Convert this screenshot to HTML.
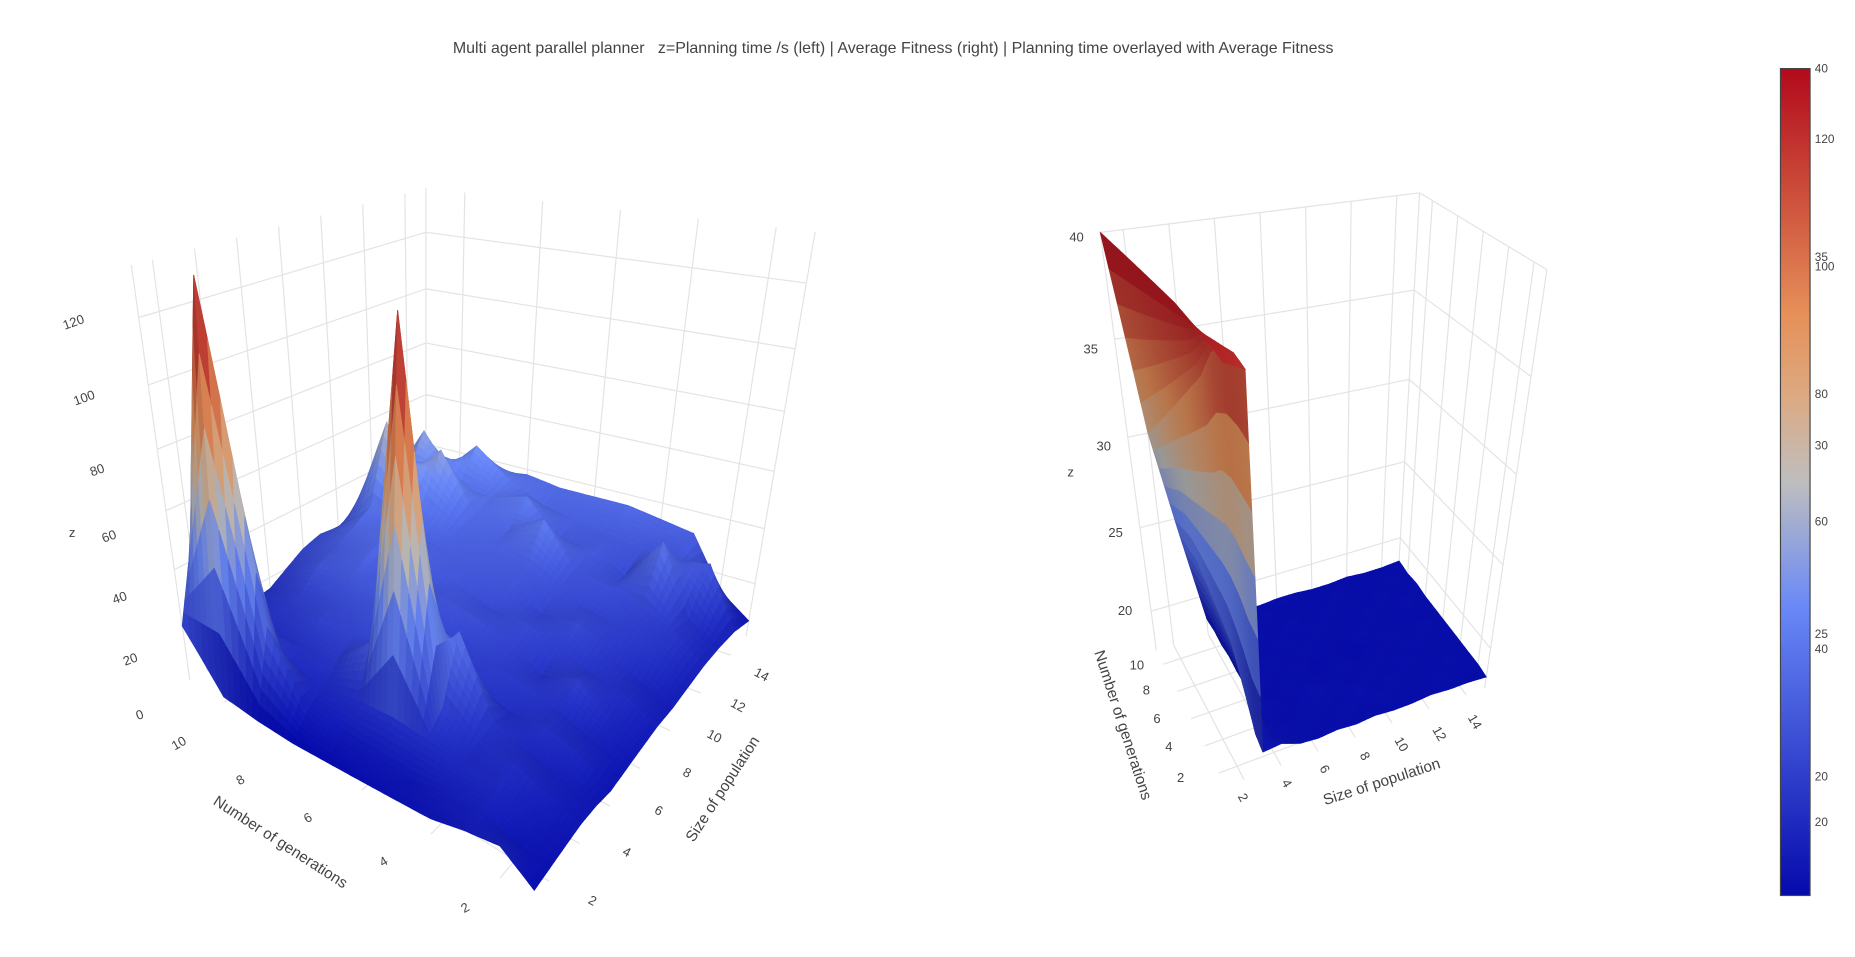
<!DOCTYPE html>
<html><head><meta charset="utf-8">
<style>
html,body{margin:0;padding:0;background:#fff;}
svg{display:block;}
text{font-family:"Liberation Sans",sans-serif;fill:#444;}
</style></head>
<body>
<svg id="chart" width="1855" height="957" viewBox="0 0 1568 809" preserveAspectRatio="none" xmlns="http://www.w3.org/2000/svg">
<rect x="0" y="0" width="1568" height="809" fill="#fff"/>
<text x="755" y="45" font-size="13.5" text-anchor="middle" xml:space="preserve">Multi agent parallel planner   z=Planning time /s (left) | Average Fitness (right) | Planning time overlayed with Average Fitness</text>
<g id="leftScene"><g id="leftGrid"></g><g id="leftSurf"></g></g>
<g id="rightScene"><g id="rightGrid"></g><g id="rightSurf"></g></g>

<g font-size="11">
<text x="62" y="276" text-anchor="middle" transform="rotate(-20 62 272)">120</text>
<text x="71" y="340" text-anchor="middle" transform="rotate(-20 71 336)">100</text>
<text x="82" y="401" text-anchor="middle" transform="rotate(-20 82 397)">80</text>
<text x="92" y="457" text-anchor="middle" transform="rotate(-20 92 453)">60</text>
<text x="101" y="509" text-anchor="middle" transform="rotate(-20 101 505)">40</text>
<text x="110" y="561" text-anchor="middle" transform="rotate(-20 110 557)">20</text>
<text x="118" y="608" text-anchor="middle" transform="rotate(-20 118 604)">0</text>
<text x="61" y="454" text-anchor="middle">z</text>
</g>
<g font-size="11">
<text x="151" y="632" text-anchor="middle" transform="rotate(-30 151 628)">10</text>
<text x="203" y="663" text-anchor="middle" transform="rotate(-30 203 659)">8</text>
<text x="260" y="695" text-anchor="middle" transform="rotate(-30 260 691)">6</text>
<text x="324" y="732" text-anchor="middle" transform="rotate(-30 324 728)">4</text>
<text x="393" y="771" text-anchor="middle" transform="rotate(-30 393 767)">2</text>
<text x="237" y="716" font-size="13" text-anchor="middle" transform="rotate(33 237 712)">Number of generations</text>
</g>
<g font-size="11">
<text x="501" y="765" text-anchor="middle" transform="rotate(28 501 761)">2</text>
<text x="530" y="724" text-anchor="middle" transform="rotate(28 530 720)">4</text>
<text x="557" y="689" text-anchor="middle" transform="rotate(28 557 685)">6</text>
<text x="581" y="657" text-anchor="middle" transform="rotate(28 581 653)">8</text>
<text x="604" y="626" text-anchor="middle" transform="rotate(28 604 622)">10</text>
<text x="624" y="600" text-anchor="middle" transform="rotate(28 624 596)">12</text>
<text x="644" y="574" text-anchor="middle" transform="rotate(28 644 570)">14</text>
<text x="611" y="671" font-size="13" text-anchor="middle" transform="rotate(-57 611 667)">Size of population</text>
</g>

<g font-size="11">
<text x="910" y="204" text-anchor="middle">40</text>
<text x="922" y="299" text-anchor="middle">35</text>
<text x="933" y="381" text-anchor="middle">30</text>
<text x="943" y="454" text-anchor="middle">25</text>
<text x="951" y="520" text-anchor="middle">20</text>
<text x="905" y="403" text-anchor="middle">z</text>
</g>
<g font-size="11">
<text x="961" y="566" text-anchor="middle">10</text>
<text x="969" y="587" text-anchor="middle">8</text>
<text x="978" y="611" text-anchor="middle">6</text>
<text x="988" y="635" text-anchor="middle">4</text>
<text x="998" y="661" text-anchor="middle">2</text>
<text x="949" y="617" font-size="13" text-anchor="middle" transform="rotate(72 949 613)">Number of generations</text>
</g>
<g font-size="11">
<text x="1051" y="678" text-anchor="middle" transform="rotate(60 1051 674)">2</text>
<text x="1088" y="666" text-anchor="middle" transform="rotate(60 1088 662)">4</text>
<text x="1120" y="654" text-anchor="middle" transform="rotate(60 1120 650)">6</text>
<text x="1154" y="643" text-anchor="middle" transform="rotate(60 1154 639)">8</text>
<text x="1185" y="633" text-anchor="middle" transform="rotate(60 1185 629)">10</text>
<text x="1217" y="624" text-anchor="middle" transform="rotate(60 1217 620)">12</text>
<text x="1247" y="614" text-anchor="middle" transform="rotate(60 1247 610)">14</text>
<text x="1168" y="665" font-size="13" text-anchor="middle" transform="rotate(-18 1168 661)">Size of population</text>
</g>

<defs>
<linearGradient id="cbGrad" x1="0" y1="1" x2="0" y2="0">
<stop offset="0" stop-color="rgb(5,10,172)"/>
<stop offset="0.35" stop-color="rgb(106,137,247)"/>
<stop offset="0.5" stop-color="rgb(190,190,190)"/>
<stop offset="0.6" stop-color="rgb(220,170,132)"/>
<stop offset="0.7" stop-color="rgb(230,145,90)"/>
<stop offset="1" stop-color="rgb(178,10,28)"/>
</linearGradient>
</defs>
<g id="colorbar">
<rect x="1505" y="58" width="25" height="699" fill="url(#cbGrad)" stroke="#444" stroke-width="1"/>
<g id="cbTicks" font-size="10"></g>
</g>
</svg>
<script>
// ---- data ----
const pops = [1,2,3,4,5,6,7,8,9,10,11,12,13,14,15];
const gens = [1,2,3,4,5,6,7,8,9,10,11];
// planning time (rows: generations 1..11, cols: population 1..15)
const zLeft = [
 [3, 4, 5, 6, 6, 5, 6, 7, 8, 8, 9, 10, 10, 9, 6],
 [10, 6, 8, 10, 9, 12, 10, 12, 14, 12, 16, 18, 16, 30, 14],
 [8, 9, 12, 14, 12, 15, 14, 20, 16, 18, 20, 22, 40, 28, 32],
 [5, 8, 12, 14, 16, 14, 18, 16, 20, 24, 22, 26, 24, 28, 34],
 [4, 6, 14, 20, 40, 18, 20, 22, 24, 22, 26, 28, 30, 30, 36],
 [3, 6, 15, 133, 25, 20, 22, 26, 24, 28, 30, 42, 30, 32, 36],
 [2, 6, 14, 30, 22, 24, 26, 28, 28, 30, 32, 34, 42, 34, 36],
 [1, 8, 12, 18, 22, 26, 30, 26, 32, 32, 34, 36, 38, 40, 38],
 [1, 30, 14, 16, 22, 24, 30, 34, 36, 34, 40, 56, 38, 50, 36],
 [2, 134, 25, 14, 18, 22, 28, 30, 34, 38, 66, 42, 56, 36, 34],
 [20, 45, 20, 15, 15, 16, 20, 24, 26, 25, 28, 30, 32, 33, 34]
];
// average fitness (rows: generations 1..11, cols: population 1..15)
const zRight = [
 [38.5, 38.0, 18.7, 18.8, 18.4, 18.3, 18.4, 18.3, 18.4, 18.3, 18.3, 18.4, 18.3, 18.3, 18.2],
 [38.8, 38.3, 19.0, 18.5, 18.4, 18.4, 18.3, 18.4, 18.3, 18.4, 18.3, 18.3, 18.4, 18.3, 18.3],
 [39.0, 38.2, 20.0, 18.5, 18.3, 18.4, 18.4, 18.3, 18.5, 18.3, 18.4, 18.3, 18.3, 18.4, 18.3],
 [39.2, 37.5, 21.0, 18.5, 18.4, 18.3, 18.5, 18.4, 18.3, 18.4, 18.3, 18.4, 18.3, 18.3, 18.3],
 [39.4, 36.0, 22.0, 18.6, 18.3, 18.4, 18.3, 18.3, 18.4, 18.3, 18.4, 18.3, 18.4, 18.3, 18.3],
 [39.5, 35.0, 22.5, 18.5, 18.4, 18.3, 18.4, 18.2, 18.3, 18.2, 18.3, 18.4, 18.3, 18.4, 18.3],
 [39.6, 34.0, 23.0, 18.5, 18.3, 18.4, 18.3, 18.4, 18.3, 18.3, 18.4, 18.3, 18.3, 18.3, 18.3],
 [39.7, 33.0, 23.5, 18.6, 18.4, 18.3, 18.4, 18.3, 18.4, 18.3, 18.3, 18.4, 18.3, 18.4, 18.3],
 [39.8, 32.0, 24.0, 18.5, 18.3, 18.4, 18.3, 18.4, 18.3, 18.4, 18.3, 18.3, 18.4, 18.3, 18.4],
 [39.9, 31.0, 24.0, 18.6, 18.4, 18.3, 18.4, 18.3, 18.3, 18.3, 18.4, 18.3, 18.3, 18.4, 18.3],
 [40.0, 30.0, 24.0, 18.5, 18.3, 18.4, 18.3, 18.4, 18.4, 18.3, 18.3, 18.4, 18.3, 18.3, 18.4]
];
const popTicks = [2,4,6,8,10,12,14];
const genTicks = [2,4,6,8,10];
const leftZTicks = [20,40,60,80,100,120];
const rightZTicks = [20,25,30,35,40];
const cbLeftLabels = [120,100,80,60,40,20];
const cbRightLabels = [40,35,30,25,20];

// ---- scene geometry (screen corners of bounding box) ----
const leftScene = {p0:1,p1:15,g0:1,g1:11,z0:0,z1:135,k:1.16,cmin:1.3,cmax:131,
  floor:{F:[451.5,761],R:[630.6,538],L:[160.5,575],B:[360,454]},
  top:{F:[458,330],R:[689,196],L:[111,224],B:[360,159]}};
const rightScene = {p0:1,p1:15,g0:1,g1:11,z0:17.5,z1:40,k:1.2,cmin:18.05,cmax:40,
  floor:{F:[1036,665],R:[1255,581.5],L:[977.5,550],B:[1182,485]},
  top:{F:[1033,275],R:[1307.6,228],L:[930,196.5],B:[1200,163]}};

const stops = [[0,[5,10,172]],[0.35,[106,137,247]],[0.5,[190,190,190]],[0.6,[220,170,132]],[0.7,[230,145,90]],[1,[178,10,28]]];
function cscale(t){
  t=Math.max(0,Math.min(1,t));
  for(let i=1;i<stops.length;i++){
    if(t<=stops[i][0]){
      const a=stops[i-1],b=stops[i],f=(t-a[0])/(b[0]-a[0]);
      return [0,1,2].map(c=>a[1][c]+(b[1][c]-a[1][c])*f);
    }
  }
  return stops[stops.length-1][1];
}
function bil(c,u,v){
  const w=[(1-u)*(1-v),u*(1-v),(1-u)*v,u*v];
  return [w[0]*c.F[0]+w[1]*c.R[0]+w[2]*c.L[0]+w[3]*c.B[0],
          w[0]*c.F[1]+w[1]*c.R[1]+w[2]*c.L[1]+w[3]*c.B[1]];
}
function proj(sc,p,g,z){
  const u=(p-sc.p0)/(sc.p1-sc.p0), v=(g-sc.g0)/(sc.g1-sc.g0);
  const t=(z-sc.z0)/(sc.z1-sc.z0);
  const tt=t/(sc.k-(sc.k-1)*t);
  const f=bil(sc.floor,u,v), tp=bil(sc.top,u,v);
  return [f[0]+(tp[0]-f[0])*tt, f[1]+(tp[1]-f[1])*tt];
}
const NS='http://www.w3.org/2000/svg';
function line(parent,a,b,name){
  const el=document.createElementNS(NS,'line');
  el.setAttribute('x1',a[0].toFixed(1));el.setAttribute('y1',a[1].toFixed(1));
  el.setAttribute('x2',b[0].toFixed(1));el.setAttribute('y2',b[1].toFixed(1));
  el.setAttribute('stroke','#e3e3e3');el.setAttribute('stroke-width','1');
  
  
  parent.appendChild(el);
}
function drawGrid(sc,gid,zTicks){
  const G=document.getElementById(gid);
  const ztop=sc.z1;
  popTicks.forEach(p=>{
    line(G,proj(sc,p,sc.g0,sc.z0),proj(sc,p,sc.g1,sc.z0),'floor-gridline-population');
    line(G,proj(sc,p,sc.g1,sc.z0),proj(sc,p,sc.g1,ztop),'wall-gridline-population');
  });
  genTicks.forEach(g=>{
    line(G,proj(sc,sc.p0,g,sc.z0),proj(sc,sc.p1,g,sc.z0),'floor-gridline-generations');
    line(G,proj(sc,sc.p1,g,sc.z0),proj(sc,sc.p1,g,ztop),'wall-gridline-generations');
  });
  zTicks.forEach(z=>{
    line(G,proj(sc,sc.p0,sc.g1,z),proj(sc,sc.p1,sc.g1,z),'wall-gridline-z');
    line(G,proj(sc,sc.p1,sc.g1,z),proj(sc,sc.p1,sc.g0,z),'wall-gridline-z');
  });
  line(G,proj(sc,sc.p0,sc.g1,sc.z0),proj(sc,sc.p0,sc.g1,ztop),'wall-edge');
  line(G,proj(sc,sc.p1,sc.g1,sc.z0),proj(sc,sc.p1,sc.g1,ztop),'wall-edge');
  line(G,proj(sc,sc.p1,sc.g0,sc.z0),proj(sc,sc.p1,sc.g0,ztop),'wall-edge');
}
function drawSurface(sc,gid,Z){
  const G=document.getElementById(gid);
  const N=6, quads=[];
  const light=[-0.45,-0.5,0.74];
  for(let j=0;j<gens.length-1;j++){
    for(let i=0;i<pops.length-1;i++){
      const z00=Z[j][i],z10=Z[j][i+1],z01=Z[j+1][i],z11=Z[j+1][i+1];
      const zf=(s,r)=>z00*(1-s)*(1-r)+z10*s*(1-r)+z01*(1-s)*r+z11*s*r;
      const dp=(pops[i+1]-pops[i]), dg=(gens[j+1]-gens[j]);
      for(let a=0;a<N;a++){
        for(let b=0;b<N;b++){
          const s0=a/N,s1=(a+1)/N,r0=b/N,r1=(b+1)/N;
          const cs=[[s0,r0],[s1,r0],[s1,r1],[s0,r1]];
          const pts=cs.map(([s,r])=>proj(sc,pops[i]+dp*s,gens[j]+dg*r,zf(s,r)));
          const zs=cs.map(([s,r])=>zf(s,r));
          const zc=(zs[0]+zs[1]+zs[2]+zs[3])/4;
          const sm=(s0+s1)/2, rm=(r0+r1)/2;
          const dzs=((z10-z00)*(1-rm)+(z11-z01)*rm)/(sc.z1-sc.z0);
          const dzr=((z01-z00)*(1-sm)+(z11-z10)*sm)/(sc.z1-sc.z0);
          const du=dp/(sc.p1-sc.p0), dv=dg/(sc.g1-sc.g0);
          const n=[-dzs/du,-dzr/dv,1]; const nl=Math.hypot(n[0],n[1],n[2]);
          const dot=Math.max(0,(n[0]*light[0]+n[1]*light[1]+n[2]*light[2])/nl);
          const shade=0.8+0.22*dot;
          const col=cscale((zc-sc.cmin)/(sc.cmax-sc.cmin)).map(c=>Math.min(255,Math.round(c*shade)));
          const u=(pops[i]+dp*sm-sc.p0)/(sc.p1-sc.p0), v=(gens[j]+dg*rm-sc.g0)/(sc.g1-sc.g0);
          quads.push({pts,col,depth:u+v});
        }
      }
    }
  }
  quads.sort((a,b)=>b.depth-a.depth);
  quads.forEach(q=>{
    const el=document.createElementNS(NS,'polygon');
    el.setAttribute('points',q.pts.map(p=>p[0].toFixed(1)+','+p[1].toFixed(1)).join(' '));
    const c='rgb('+q.col.join(',')+')';
    el.setAttribute('fill',c);el.setAttribute('stroke',c);el.setAttribute('stroke-width','0.6');
    
    
    G.appendChild(el);
  });
}
drawGrid(leftScene,'leftGrid',leftZTicks);
drawGrid(rightScene,'rightGrid',rightZTicks);
drawSurface(leftScene,'leftSurf',zLeft);
drawSurface(rightScene,'rightSurf',zRight);

// colorbar tick labels
const cbTop=58, cbH=699;
function cbY(v,sc){return cbTop+cbH-(v-sc.cmin)/(sc.cmax-sc.cmin)*cbH;}
const cbG=document.getElementById('cbTicks');
function cbLabel(v,sc,name){
  const t=document.createElementNS(NS,'text');
  t.setAttribute('x','1534');t.setAttribute('y',(cbY(v,sc)+3.5).toFixed(1));
  t.textContent=String(v);
  
  
  cbG.appendChild(t);
}
cbLeftLabels.forEach(v=>cbLabel(v,leftScene,'colorbar-tick-planning-time'));
cbRightLabels.forEach(v=>cbLabel(v,rightScene,'colorbar-tick-fitness'));
</script>
</body></html>
